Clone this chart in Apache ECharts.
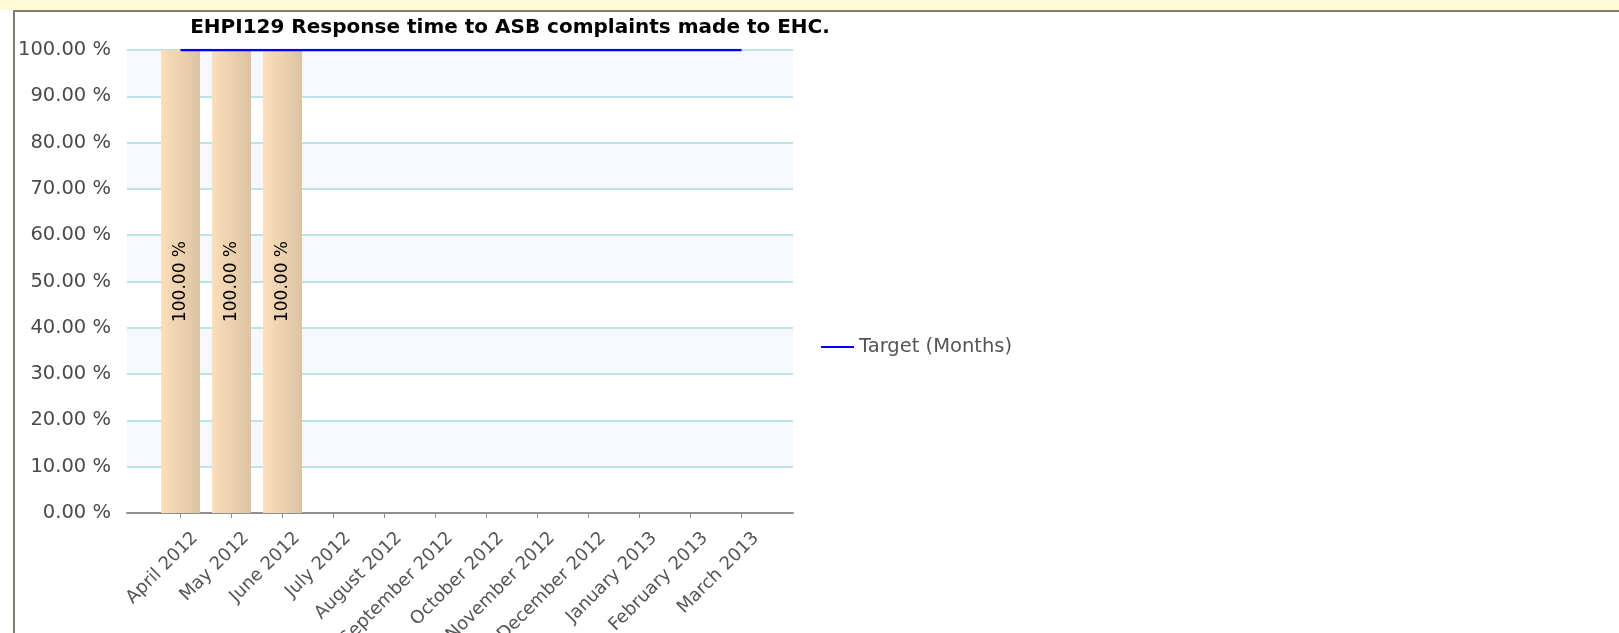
<!DOCTYPE html>
<html>
<head>
<meta charset="utf-8">
<script src="https://cdn.jsdelivr.net/npm/echarts@6/dist/echarts.min.js"></script>
<style>
html,body{margin:0;padding:0;background:#fff;}
#chart{width:1619px;height:633px;}
</style>
</head>
<body>
<div id="chart"></div>
<script>
// ---- data ----
var titleText = 'EHPI129 Response time to ASB complaints made to EHC.';
var categories = ['April 2012','May 2012','June 2012','July 2012','August 2012','September 2012','October 2012','November 2012','December 2012','January 2013','February 2013','March 2013'];
var actualValues = [100, 100, 100];          // bars (%), only first three months reported
var targetValues = [100,100,100,100,100,100,100,100,100,100,100,100]; // Target (Months) line (%)
var targetName = 'Target (Months)';

var catIdx = categories.map(function(c, i){ return i; });
var labelPos = catIdx.map(function(i){ return i + 0.16; }); // labels sit slightly right of their tick
var barData = actualValues.map(function(v, i){ return [i, v]; });
var lineData = targetValues.map(function(v, i){ return [i, v]; });

var font = 'DejaVu Sans, Verdana, sans-serif';
var chart = echarts.init(document.getElementById('chart'), null, {renderer:'canvas'});
chart.setOption({
  animation: false,
  backgroundColor: '#ffffff',
  graphic: [
    {type:'rect', shape:{x:0,y:0,width:1619,height:10}, style:{fill:'#FFFBD9'}, silent:true},
    {type:'rect', shape:{x:13,y:10,width:1606,height:2}, style:{fill:'#7E7E6C'}, silent:true},
    {type:'rect', shape:{x:13,y:10,width:2,height:623}, style:{fill:'#7E7E6C'}, silent:true}
  ],
  title: {
    text: titleText,
    left: 505, top: 13, textAlign: 'center',
    textStyle: {fontFamily: font, fontWeight:'bold', fontSize:20, color:'#000'}
  },
  legend: {
    data: [{name: targetName, icon: 'rect'}],
    left: 816, top: 332,
    itemWidth: 33, itemHeight: 2, itemGap: 6,
    textStyle: {fontFamily: font, fontSize: 19.5, color:'#555'}
  },
  grid: {left:127, right:826, top:50, bottom:120, containLabel:false, outerBoundsMode:'none'},
  xAxis: {
    type: 'value',
    min: -1.05, max: 12.01,
    splitLine: {show:false},
    splitArea: {show:false},
    axisLine: {show:true, lineStyle:{color:'#8f8f8f', width:2}},
    axisTick: {show:true, length:5, customValues: catIdx, lineStyle:{color:'#8f8f8f'}},
    axisLabel: {
      customValues: labelPos,
      rotate: 45, margin: 16, verticalAlign: 'top',
      fontFamily: font, fontSize: 18, color:'#555',
      formatter: function(v){ return categories[Math.round(v)] || ''; }
    }
  },
  yAxis: {
    type: 'value',
    min: 0, max: 100, interval: 10,
    axisLine: {show:true, lineStyle:{color:'#7a7a7a', width:1}},
    axisTick: {show:true, length:4, lineStyle:{color:'#7a7a7a'}},
    axisLabel: {
      margin: 16,
      fontFamily: font, fontSize: 19.5, color:'#4a4a4a',
      formatter: function(v){ return v.toFixed(2) + ' %'; }
    },
    splitLine: {show:true, lineStyle:{color:'#BCE3EA', width:2}},
    splitArea: {show:true, areaStyle:{color:['#ffffff','#F7F8FD']}}
  },
  series: [
    {
      name: 'Actual',
      type: 'bar',
      data: barData,
      barWidth: 39,
      itemStyle: {
        color: new echarts.graphic.LinearGradient(0,0,1,0,[
          {offset:0, color:'#FCDFB9'},
          {offset:1, color:'#DCC3A4'}
        ]),
        borderWidth: 0
      },
      label: {
        show: true, position: 'inside', rotate: 90,
        fontFamily: font, fontSize: 17, color:'#000',
        formatter: function(p){ return p.value[1].toFixed(2) + ' %'; }
      },
      z: 2
    },
    {
      name: targetName,
      type: 'line',
      data: lineData,
      showSymbol: false, symbol: 'none',
      lineStyle: {color:'#0000FF', width:2.5},
      itemStyle: {color:'#0000FF'},
      z: 3
    }
  ]
});
</script>
</body>
</html>
